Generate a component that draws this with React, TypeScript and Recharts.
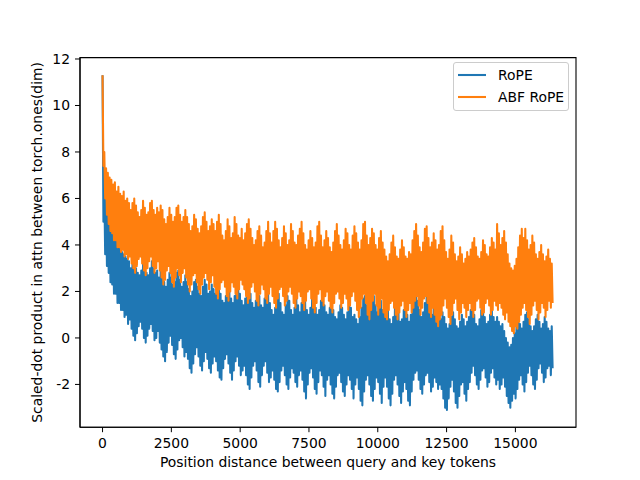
import {
  Label,
  Legend,
  Line,
  LineChart,
  ReferenceArea,
  XAxis,
  YAxis,
} from "recharts";

const STEP = 32;

const ropeValues = [
  11.3, 5.0, 6.4, 3.6, 6.0, 3.1, 5.4, 2.8,
  5.0, 2.4, 4.8, 2.3, 4.5, 1.9, 4.4, 1.9,
  4.2, 1.5, 4.0, 1.5, 3.9, 1.2, 3.7, 1.2,
  3.6, 0.9, 3.5, 1.0, 3.4, 0.6, 3.3, 0.8,

  3.0, 0.4, 3.2, 0.1, 3.3, -0.1, 3.0, 0.2,
  2.8, 0.5, 2.7, 0.7, 2.9, 0.4, 3.2, 0.0,
  3.1, -0.2, 2.8, 0.1, 2.7, 0.4, 3.0, 0.6,
  3.3, 0.3, 3.0, -0.1, 2.8, 0.0, 2.9, 0.3,

  2.6, -0.2, 2.9, -0.5, 2.7, -0.8, 2.4, -1.0,
  2.2, -0.6, 2.5, -0.2, 2.8, 0.1, 2.6, -0.3,
  2.3, -0.7, 2.4, -0.9, 2.8, -0.5, 2.9, -0.1,
  2.5, 0.0, 2.2, -0.4, 2.4, -0.8, 2.7, -0.6,

  2.4, -0.9, 2.1, -1.3, 1.8, -1.5, 2.0, -1.1,
  2.4, -0.7, 2.5, -0.4, 2.2, -0.8, 1.9, -1.2,
  1.8, -1.4, 2.2, -1.0, 2.5, -0.6, 2.3, -0.9,
  1.9, -1.3, 2.0, -1.5, 2.3, -1.1, 2.1, -0.8,

  1.9, -1.0, 2.2, -1.4, 2.3, -1.7, 1.9, -1.8,
  1.6, -1.3, 1.5, -0.9, 1.8, -0.7, 2.2, -1.1,
  2.0, -1.5, 1.7, -1.8, 1.5, -1.4, 1.8, -1.0,
  2.1, -0.8, 2.3, -1.2, 1.9, -1.6, 1.6, -1.4,

  1.4, -1.2, 1.7, -1.6, 2.2, -2.0, 2.3, -2.2,
  1.9, -1.7, 1.5, -1.2, 1.3, -1.0, 1.6, -1.4,
  2.0, -1.9, 1.8, -2.1, 1.4, -1.6, 1.3, -1.2,
  1.7, -1.0, 2.1, -1.5, 1.9, -1.9, 1.5, -1.7,

  1.2, -1.4, 1.0, -1.8, 1.3, -2.2, 1.7, -2.3,
  1.9, -1.9, 1.5, -1.4, 1.1, -1.2, 1.0, -1.6,
  1.4, -2.0, 1.8, -2.2, 1.6, -1.7, 1.2, -1.3,
  1.0, -1.5, 1.3, -1.9, 1.7, -2.1, 1.4, -1.6,

  1.1, -1.4, 1.5, -1.8, 1.9, -2.3, 1.6, -2.6,
  1.2, -2.0, 1.0, -1.5, 1.3, -1.3, 1.8, -1.7,
  1.7, -2.2, 1.3, -2.4, 1.0, -1.9, 1.2, -1.4,
  1.6, -1.6, 1.9, -2.1, 1.4, -2.5, 1.1, -1.8,

  1.0, -1.6, 1.3, -2.0, 1.5, -2.4, 1.2, -2.6,
  0.9, -2.1, 0.8, -1.6, 1.1, -1.5, 1.4, -1.9,
  1.3, -2.3, 1.0, -2.5, 0.8, -2.0, 1.1, -1.6,
  1.5, -1.8, 1.3, -2.2, 0.9, -2.6, 1.0, -2.0,

  0.8, -1.7, 0.6, -2.2, 0.9, -2.7, 1.3, -2.9,
  1.7, -2.3, 1.8, -1.8, 1.4, -1.6, 1.0, -2.0,
  1.2, -2.5, 1.6, -2.7, 1.8, -2.2, 1.4, -1.7,
  1.1, -1.9, 1.3, -2.4, 1.6, -2.8, 1.2, -2.1,

  1.4, -1.7, 1.6, -2.1, 1.2, -2.6, 0.8, -2.9,
  0.6, -2.4, 0.9, -1.8, 1.3, -1.6, 1.5, -2.0,
  1.1, -2.5, 0.7, -2.8, 0.8, -2.3, 1.2, -1.9,
  1.4, -2.2, 1.0, -2.7, 0.7, -2.9, 1.0, -2.3,

  1.3, -1.8, 1.7, -1.5, 1.9, -1.4, 1.6, -1.8,
  1.2, -2.2, 0.9, -2.4, 1.1, -2.0, 1.5, -1.6,
  1.8, -1.5, 1.5, -1.9, 1.1, -2.3, 1.0, -2.1,
  1.3, -1.7, 1.2, -1.9, 0.9, -2.2, 1.0, -2.0,

  0.8, -2.2, 1.1, -2.6, 0.9, -3.0, 0.6, -3.1,
  0.4, -2.6, 0.6, -2.1, 0.9, -1.8, 1.1, -2.3,
  0.8, -2.8, 0.5, -3.0, 0.4, -2.5, 0.7, -2.0,
  1.0, -1.9, 0.8, -2.4, 0.5, -2.7, 0.7, -2.2,

  0.9, -1.9, 1.2, -1.5, 1.3, -1.2, 1.0, -1.6,
  0.6, -2.0, 0.5, -2.2, 0.8, -1.8, 1.2, -1.4,
  1.3, -1.3, 0.9, -1.7, 0.6, -2.1, 0.7, -1.9,
  1.0, -1.5, 1.2, -1.3, 0.9, -1.7, 0.7, -2.0,

  0.9, -1.8, 0.7, -2.2, 0.5, -2.0, 0.6, -1.7,
  0.3, -2.1, 0.0, -2.5, -0.2, -2.8, -0.4, -3.0,
  -0.3, -2.7, 0.0, -2.4, 0.2, -2.6, 0.5, -2.2,
  0.8, -1.8, 0.6, -1.6, 0.4, -2.0, 0.7, -2.3,

  1.0, -1.9, 1.1, -1.5, 0.8, -1.2, 0.5, -1.6,
  0.3, -2.0, 0.5, -2.2, 0.8, -1.8, 1.0, -1.3,
  0.7, -1.1, 0.4, -1.5, 0.6, -1.9, 0.9, -1.7,
  0.7, -1.3, 0.4, -1.2, 0.3, -1.6, 0.5, -1.3,
];

const abfRopeValues = [
  11.3, 7.4, 8.0, 6.0, 7.3, 5.3, 7.1, 4.9,
  6.9, 4.6, 6.8, 4.5, 6.6, 4.2, 6.7, 4.2,
  6.3, 3.9, 6.5, 3.9, 6.2, 3.7, 6.1, 3.8,
  6.3, 3.5, 5.9, 3.6, 6.0, 3.4, 5.8, 3.5,

  5.5, 3.2, 5.8, 3.0, 6.0, 2.8, 5.7, 3.1,
  5.4, 3.4, 5.2, 3.5, 5.5, 3.2, 5.9, 2.9,
  5.6, 2.7, 5.3, 3.0, 5.4, 3.3, 5.8, 3.5,
  5.9, 3.1, 5.5, 2.8, 5.3, 3.0, 5.6, 3.3,

  5.4, 2.9, 5.7, 2.6, 5.5, 2.3, 5.1, 2.5,
  4.9, 2.9, 5.2, 3.1, 5.6, 2.8, 5.3, 2.4,
  5.0, 2.2, 5.2, 2.6, 5.6, 3.0, 5.7, 2.7,
  5.3, 2.4, 5.0, 2.8, 5.2, 3.0, 5.5, 2.6,

  5.2, 2.3, 4.9, 2.0, 4.6, 2.3, 4.8, 2.7,
  5.3, 2.8, 5.1, 2.4, 4.7, 2.1, 4.5, 1.9,
  4.8, 2.3, 5.2, 2.6, 5.4, 2.8, 5.0, 2.5,
  4.6, 2.1, 4.8, 2.4, 5.1, 2.7, 4.9, 2.2,

  4.6, 1.9, 5.0, 1.7, 5.3, 2.1, 4.9, 2.4,
  4.4, 2.5, 4.2, 2.2, 4.6, 1.8, 5.1, 1.6,
  4.8, 2.0, 4.3, 2.4, 4.5, 2.2, 5.2, 1.9,
  4.9, 1.7, 4.4, 2.1, 4.3, 2.5, 4.7, 2.3,

  4.2, 2.1, 4.5, 1.8, 4.9, 1.5, 5.1, 1.7,
  4.7, 2.2, 4.3, 2.4, 4.0, 2.0, 4.2, 1.6,
  4.6, 1.4, 4.8, 1.9, 4.4, 2.3, 3.9, 2.1,
  4.1, 1.7, 4.6, 1.5, 5.0, 1.9, 4.5, 2.2,

  4.1, 1.8, 4.6, 1.5, 5.0, 1.3, 4.7, 1.7,
  4.2, 2.1, 3.9, 2.2, 4.3, 1.8, 4.8, 1.4,
  4.5, 1.6, 4.0, 2.0, 4.2, 2.2, 4.9, 1.9,
  4.6, 1.5, 4.1, 1.3, 4.0, 1.7, 4.4, 2.0,

  4.7, 1.8, 5.0, 1.5, 4.5, 1.2, 4.0, 1.6,
  3.8, 2.0, 4.2, 2.1, 4.6, 1.7, 4.3, 1.3,
  3.9, 1.1, 4.1, 1.5, 4.8, 1.9, 5.0, 2.1,
  4.4, 1.6, 3.9, 1.4, 4.2, 1.8, 4.6, 2.0,

  4.3, 1.6, 3.9, 1.3, 3.7, 1.1, 4.1, 1.5,
  4.6, 1.9, 4.9, 2.0, 4.4, 1.7, 4.0, 1.3,
  3.8, 1.5, 4.2, 1.9, 4.7, 1.7, 4.5, 1.2,
  4.0, 1.4, 3.8, 1.8, 4.4, 2.0, 4.8, 1.6,

  4.5, 1.2, 4.1, 0.9, 3.8, 1.3, 4.2, 1.7,
  4.9, 1.9, 5.0, 1.5, 4.4, 1.0, 4.0, 0.8,
  4.3, 1.2, 4.7, 1.6, 4.5, 1.9, 4.0, 1.4,
  3.8, 1.0, 4.3, 1.3, 4.6, 1.7, 4.1, 1.1,

  3.8, 0.9, 3.5, 0.8, 3.3, 1.2, 3.6, 1.5,
  4.1, 1.6, 4.4, 1.3, 3.9, 1.0, 3.5, 0.8,
  3.4, 1.1, 3.8, 1.4, 4.2, 1.6, 3.9, 1.2,
  3.5, 0.9, 3.4, 1.2, 3.7, 1.5, 3.6, 1.1,

  4.2, 1.3, 4.6, 1.6, 4.9, 1.8, 4.4, 1.4,
  3.9, 1.0, 3.7, 1.3, 4.1, 1.7, 4.7, 1.8,
  4.8, 1.5, 4.3, 1.1, 3.9, 0.9, 4.1, 1.3,
  4.5, 1.0, 4.2, 0.7, 3.8, 0.5, 4.0, 0.8,

  4.6, 1.0, 4.8, 1.4, 4.2, 1.7, 3.7, 1.3,
  3.4, 0.9, 3.8, 0.6, 4.4, 1.0, 4.1, 1.5,
  3.6, 1.7, 3.3, 1.2, 3.5, 0.8, 3.9, 1.1,
  3.6, 1.5, 3.2, 1.3, 3.4, 0.9, 3.7, 1.2,

  3.5, 1.5, 3.8, 1.2, 4.1, 0.9, 4.3, 1.2,
  3.9, 1.6, 3.5, 1.7, 3.4, 1.3, 3.7, 1.0,
  4.2, 1.1, 4.0, 1.5, 3.6, 1.7, 3.5, 1.4,
  3.9, 1.0, 4.3, 1.2, 4.1, 1.6, 3.8, 1.4,

  4.9, 1.2, 4.5, 1.5, 4.0, 1.3, 4.3, 1.0,
  4.6, 0.8, 4.1, 1.1, 3.6, 0.7, 3.2, 0.5,
  3.0, 0.3, 2.9, 0.2, 3.1, 0.5, 3.4, 0.4,
  3.9, 0.7, 4.4, 1.0, 4.7, 1.3, 4.3, 1.5,

  4.7, 1.2, 4.2, 0.9, 3.8, 0.6, 4.0, 1.0,
  4.4, 1.4, 4.1, 1.6, 3.6, 1.2, 3.4, 0.8,
  3.7, 1.1, 4.0, 1.5, 3.6, 1.3, 3.3, 0.9,
  3.5, 1.2, 3.8, 1.6, 3.4, 1.3, 3.2, 1.5,
];

const positions = ropeValues.map((_, i) => i * STEP);

const xTicks = [0, 2500, 5000, 7500, 10000, 12500, 15000];
const yTicks = [-2, 0, 2, 4, 6, 8, 10, 12];

const seriesNames = ["RoPE", "ABF RoPE"];
const seriesColors = ["#1f77b4", "#ff7f0e"];

const X_DOMAIN: [number, number] = [-819, 17202];
const Y_DOMAIN: [number, number] = [-3.84, 12.06];

const chartData = positions.map((pos, i) => ({
  pos,
  rope: ropeValues[i],
  abf: abfRopeValues[i],
}));

const FONT = "DejaVu Sans, sans-serif";
const FONT_SIZE = 13.9;
const LINE_WIDTH = 2.08;

function LegendBox() {
  return (
    <div
      style={{
        boxSizing: "border-box",
        width: 116,
        height: 49,
        border: "1px solid #cccccc",
        borderRadius: 3,
        background: "rgba(255,255,255,0.8)",
        fontFamily: FONT,
        fontSize: FONT_SIZE,
        color: "#000",
        padding: "1px 0 0 4px",
      }}
    >
      {seriesNames.map((name, i) => (
        <div
          key={name}
          style={{
            display: "flex",
            alignItems: "center",
            height: 22,
          }}
        >
          <svg width={28} height={4} style={{ marginRight: 12 }}>
            <line
              x1={0}
              y1={2}
              x2={28}
              y2={2}
              stroke={seriesColors[i]}
              strokeWidth={LINE_WIDTH}
            />
          </svg>
          <span>{name}</span>
        </div>
      ))}
    </div>
  );
}

export default function App() {
  return (
    <div
      style={{
        position: "absolute",
        left: 0,
        top: 0,
        width: 640,
        height: 480,
        background: "#fff",
      }}
    >
      <LineChart
        width={640}
        height={480}
        data={chartData}
        margin={{
          top: 57.6,
          right: 64,
          bottom: 0,
          left: 0,
        }}
      >
        <XAxis
          dataKey="pos"
          type="number"
          domain={X_DOMAIN}
          ticks={xTicks}
          allowDataOverflow
          height={52.8}
          tickSize={5}
          tickMargin={5.6}
          tick={{
            fill: "#000",
            fontSize: FONT_SIZE,
            fontFamily: FONT,
          }}
          tickLine={{ stroke: "#000" }}
          axisLine={{ stroke: "#000", strokeWidth: 1.1 }}
        >
          <Label
            content={() => (
              <text
                x={328}
                y={467}
                textAnchor="middle"
                fontFamily={FONT}
                fontSize={FONT_SIZE}
                fill="#000"
              >
                Position distance between query and key tokens
              </text>
            )}
          />
        </XAxis>

        <YAxis
          type="number"
          domain={Y_DOMAIN}
          ticks={yTicks}
          allowDataOverflow
          width={80}
          tickSize={5}
          tickMargin={5}
          tick={{
            fill: "#000",
            fontSize: FONT_SIZE,
            fontFamily: FONT,
          }}
          tickLine={{ stroke: "#000" }}
          axisLine={{ stroke: "#000", strokeWidth: 1.1 }}
        >
          <Label
            content={() => (
              <text
                x={42.5}
                y={242.4}
                transform="rotate(-90, 42.5, 242.4)"
                textAnchor="middle"
                fontFamily={FONT}
                fontSize={FONT_SIZE}
                fill="#000"
              >
                Scaled-dot product in attn between torch.ones(dim)
              </text>
            )}
          />
        </YAxis>

        <Legend
          layout="vertical"
          align="center"
          verticalAlign="middle"
          content={() => <LegendBox />}
          wrapperStyle={{
            left: 453,
            top: 62,
            width: 116,
            height: 49,
          }}
        />

        <Line
          dataKey="rope"
          name={seriesNames[0]}
          stroke={seriesColors[0]}
          strokeWidth={LINE_WIDTH}
          strokeLinejoin="round"
          dot={false}
          activeDot={false}
          isAnimationActive={false}
        />

        <Line
          dataKey="abf"
          name={seriesNames[1]}
          stroke={seriesColors[1]}
          strokeWidth={LINE_WIDTH}
          strokeLinejoin="round"
          dot={false}
          activeDot={false}
          isAnimationActive={false}
        />

        {/* axes frame */}
        <ReferenceArea
          x1={X_DOMAIN[0]}
          x2={X_DOMAIN[1]}
          y1={Y_DOMAIN[0]}
          y2={Y_DOMAIN[1]}
          fill="none"
          stroke="#000"
          strokeWidth={1.1}
          ifOverflow="visible"
        />
      </LineChart>
    </div>
  );
}
